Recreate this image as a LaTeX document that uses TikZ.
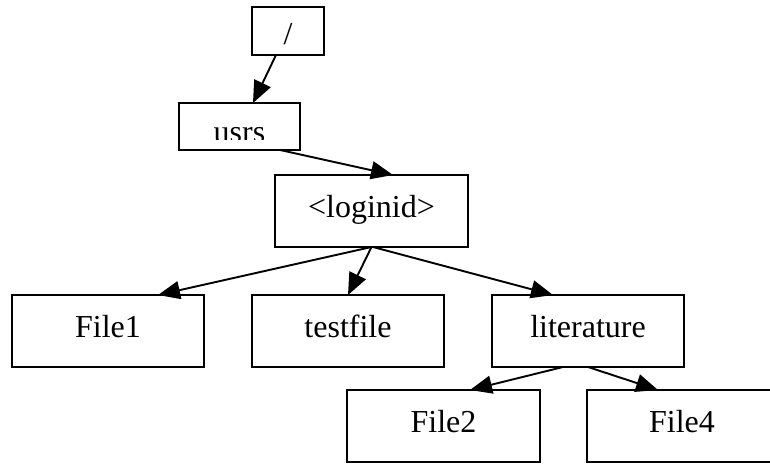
\documentclass[tikz,border=0pt]{standalone}
\usepackage{fontspec}
\setmainfont{Liberation Serif}
\usetikzlibrary{arrows.meta}
\tikzset{
  x=1pt, y=-1pt,
  box/.style={draw, line width=1.9pt, inner sep=0pt, outer sep=0pt,
    minimum width=192pt, minimum height=72pt,
    text height=22pt, text depth=10pt,
    font=\fontsize{32}{36}\selectfont},
  arr/.style={line width=1.9pt, -{Triangle[length=22pt,width=18pt]}}
}
\begin{document}
\begin{tikzpicture}
\clip (0,0) rectangle (770,463);
\useasboundingbox (0,0) rectangle (770,463);
\node[box, minimum width=72pt, minimum height=48pt, text height=26pt, text depth=0pt] (root) at (288,31) {/};
\node[box, minimum width=121pt, minimum height=47pt, text height=0pt, text depth=0pt] (usrs) at (239.5,126.5) {};
\begin{scope}
  \clip (179,103) rectangle (300,139.5);
  \node[anchor=base, inner sep=0pt, font=\fontsize{32}{36}\selectfont] (usrstext) at (239.5,142) {usrs};
\end{scope}
\node[box, minimum width=193pt] (loginid) at (371.5,211) {<loginid>};
\node[box] (file1) at (108,331) {File1};
\node[box] (testfile) at (348,331) {testfile};
\node[box] (literature) at (588,331) {literature};
\node[box, minimum width=193pt] (file2) at (443.5,426) {File2};
\node[box, minimum width=190pt] (file4) at (682,426) {File4};

\draw[arr] ([xshift=-12pt]root.south) -- ([xshift=13.5pt]usrs.north);
\draw[arr] ([xshift=40.5pt]usrs.south) -- ([xshift=21.5pt]loginid.north);
\draw[arr] (loginid.south) -- ([xshift=50pt]file1.north);
\draw[arr] (loginid.south) -- (testfile.north);
\draw[arr] ([xshift=1.5pt]loginid.south) -- ([xshift=-35pt]literature.north);
\draw[arr] ([xshift=-25pt]literature.south) -- ([xshift=26.5pt]file2.north);
\draw[arr] (literature.south) -- ([xshift=-24pt]file4.north);
\end{tikzpicture}
\end{document}
